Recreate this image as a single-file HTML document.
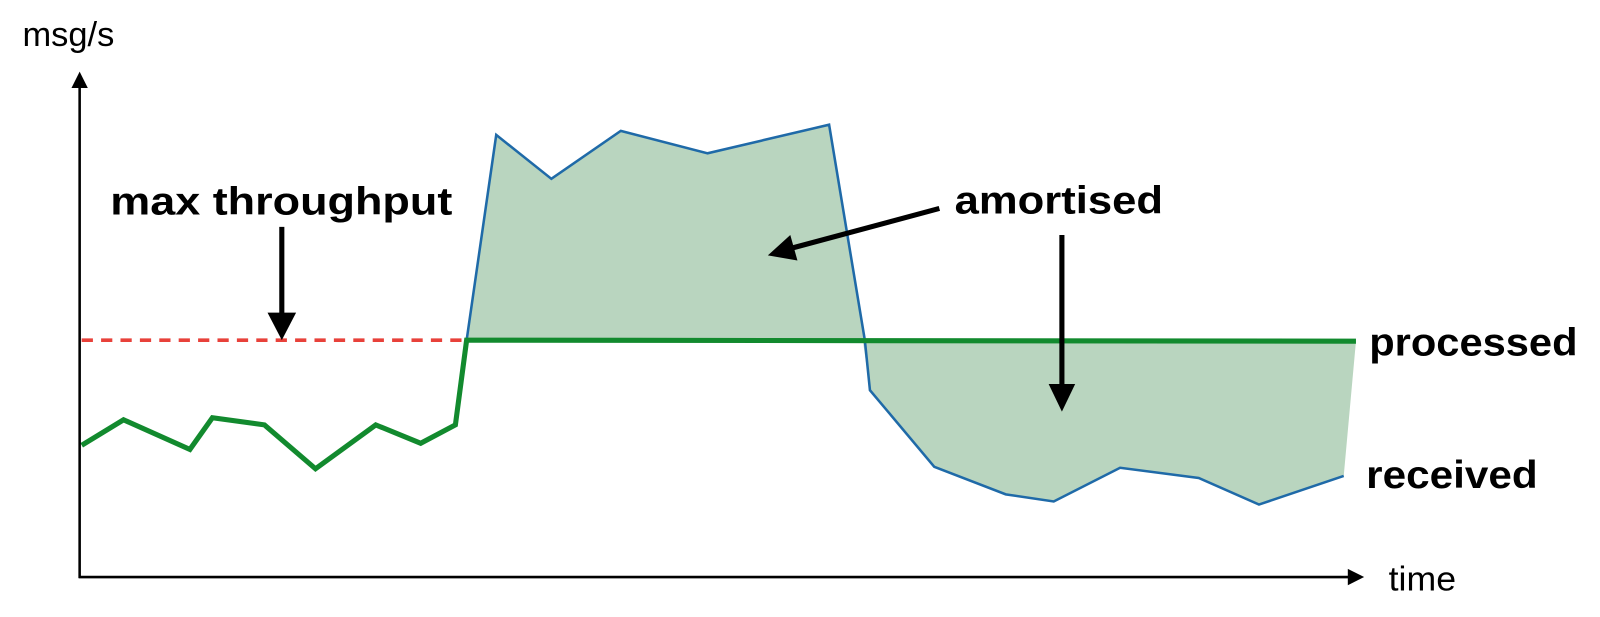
<!DOCTYPE html>
<html><head><meta charset="utf-8"><style>html,body{margin:0;padding:0;background:#fff}svg{display:block}</style></head>
<body>
<svg width="1600" height="617" viewBox="0 0 1567 604" xmlns="http://www.w3.org/2000/svg">
<polygon points="457,333 486,132 540,175 608,128 693,150 812,122 847,333" fill="#b9d5bf"/>
<polygon points="845,333 852,382 915,457 985,484 1032,491 1097,458 1174,468 1233,494 1316,466 1328,334" fill="#b9d5bf"/>
<polyline points="457,333 486,132 540,175 608,128 693,150 812,122 847,333 852,382 915,457 985,484 1032,491 1097,458 1174,468 1233,494 1316,466" fill="none" stroke="#1f6aa8" stroke-width="2.5"/>
<line x1="80" y1="333" x2="457" y2="333" stroke="#e8413a" stroke-width="3.5" stroke-dasharray="11,8"/>
<polyline points="80,436 121,411 186,440 208,409 259,416 309,459 368,416 412,434 446,416 457,333 1328,334" fill="none" stroke="#128a2e" stroke-width="5" stroke-linejoin="miter"/>
<line x1="78" y1="566" x2="78" y2="84" stroke="#000" stroke-width="2.5"/>
<path d="M70,86 L78,70 L86,86 z" fill="#000"/>
<line x1="77" y1="565" x2="1322" y2="565" stroke="#000" stroke-width="2.5"/>
<path d="M1320,557 L1336,565 L1320,573 z" fill="#000"/>
<line x1="276" y1="222" x2="276" y2="310" stroke="#000" stroke-width="5"/>
<path d="M262,306 L276,333 L290,306 z" fill="#000"/>
<line x1="920" y1="204" x2="775" y2="243" stroke="#000" stroke-width="5"/>
<path d="M752,250 L774,230 L781,255 z" fill="#000"/>
<line x1="1040" y1="230" x2="1040" y2="380" stroke="#000" stroke-width="5"/>
<path d="M1027,376 L1040,403 L1053,376 z" fill="#000"/>
<g font-family="Liberation Sans, sans-serif">
<text x="22" y="45" font-size="34" textLength="90" lengthAdjust="spacingAndGlyphs">msg/s</text>
<text x="1360" y="578" font-size="34" textLength="66" lengthAdjust="spacingAndGlyphs">time</text>
<g font-weight="bold" font-size="38">
<text x="108" y="210" textLength="335" lengthAdjust="spacingAndGlyphs">max throughput</text>
<text x="935" y="209" textLength="204" lengthAdjust="spacingAndGlyphs">amortised</text>
<text x="1341" y="348" textLength="204" lengthAdjust="spacingAndGlyphs">processed</text>
<text x="1338" y="478" textLength="168" lengthAdjust="spacingAndGlyphs">received</text>
</g>
</g>
</svg>
</body></html>
